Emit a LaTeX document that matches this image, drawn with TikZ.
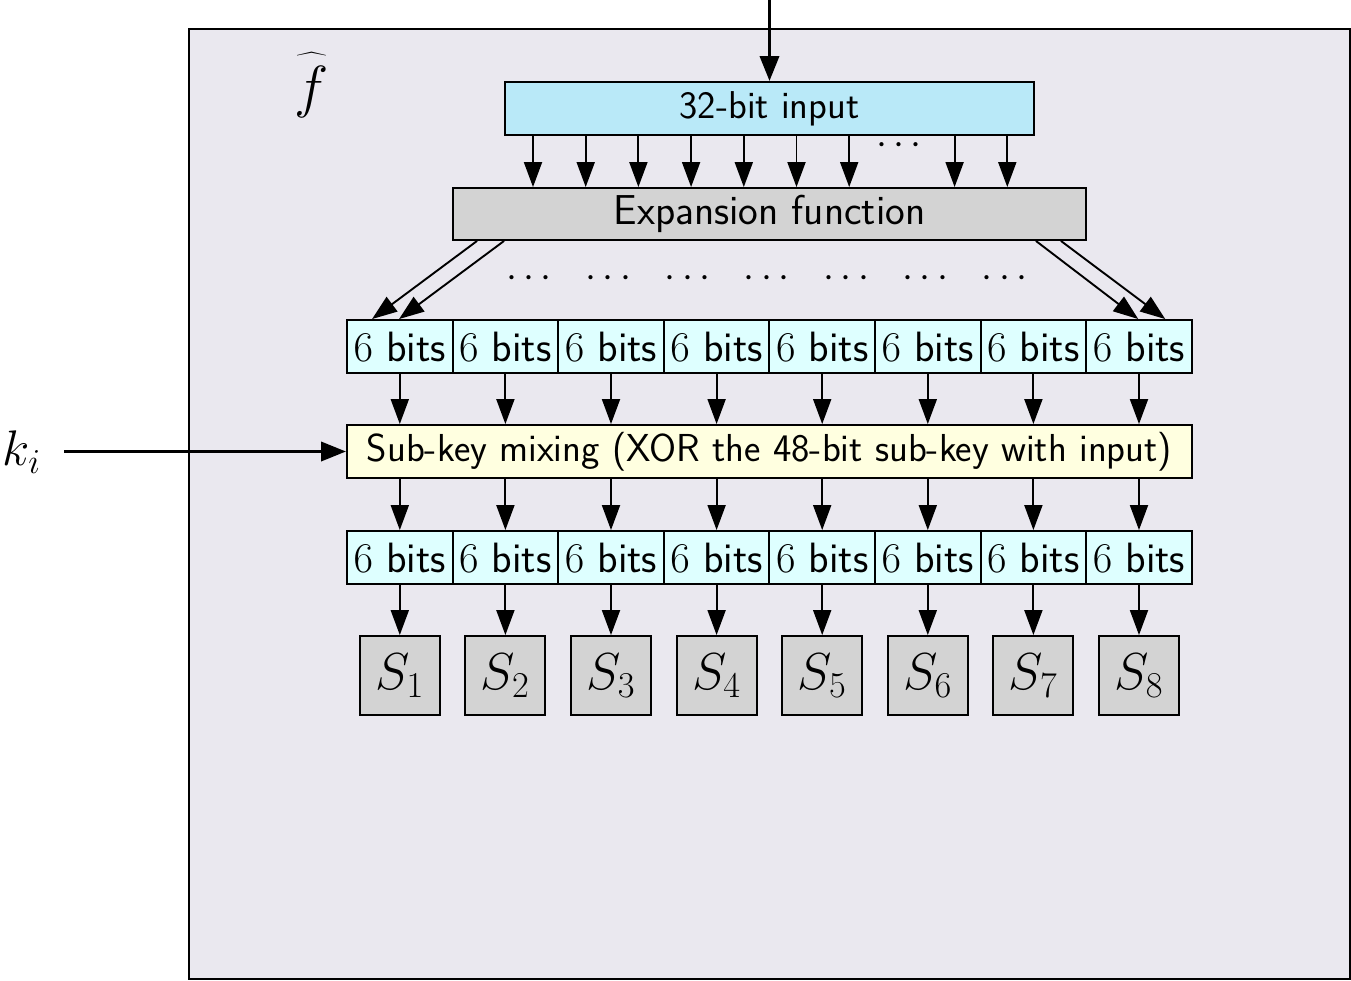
\documentclass[tikz,border=0pt]{standalone}
\usepackage{fix-cm}
\usepackage{fontspec}
\usetikzlibrary{arrows.meta,calc}
\definecolor{bgc}{RGB}{234,232,239}
\definecolor{inc}{RGB}{185,233,248}
\definecolor{bitc}{RGB}{222,255,255}
\definecolor{skc}{RGB}{255,255,224}
\definecolor{grc}{RGB}{211,211,211}
\begin{document}
\begin{tikzpicture}[x=0.5pt,y=-0.5pt,
  box/.style={draw,line width=0.95pt,inner sep=0pt,font=\fontsize{19.4}{23}\selectfont\sffamily},
  bitbox/.style={box,fill=bitc,minimum width=52.8pt,minimum height=26.5pt,font=\fontsize{21.2}{25}\selectfont\sffamily},
  sbox/.style={box,fill=grc,minimum width=40pt,minimum height=39.5pt,font=\fontsize{26}{30}\selectfont},
  arr/.style={line width=0.95pt,-{Triangle[length=12.5pt,width=9pt]}},
  thickarr/.style={line width=1.8pt,-{Triangle[length=12.5pt,width=9.5pt]}},
  dots/.style={inner sep=0pt,font=\fontsize{19.7}{23}\selectfont}
]
\useasboundingbox (0,0) rectangle (1351,981);
% outer box
\node[draw,line width=1.2pt,fill=bgc,minimum width=580.5pt,minimum height=475pt,inner sep=0pt] (F) at (769.5,504) {};
\node[font=\fontsize{29}{33}\selectfont] (fh) at (312,85) {$\widehat{f\rule{0pt}{23.5pt}}$};
% input
\node[box,fill=inc,minimum width=264.5pt,minimum height=26.5pt] (in) at (769.5,108.5) {32-bit input};
\coordinate (top) at (769.5,0);
\draw[thickarr] (top) -- (in.north);
% expansion
\node[box,fill=grc,minimum width=316.5pt,minimum height=26pt,font=\fontsize{20.9}{24}\selectfont\sffamily] (exp) at (769.5,214) {Expansion function};
\foreach \i in {0,1,2,3,4,5,6,8,9}{
  \coordinate (c\i) at ({533+52.7*\i},0);
  \draw[arr] (c\i |- in.south) -- (c\i |- exp.north);
}
\node[dots] (d0) at (899,146) {$\cdots$};
% first 6-bit row
\foreach \i in {1,...,8}{
  \node[bitbox] (a\i) at ({294.2+105.6*\i},346.5) {$6$ bits};
}
\foreach \i in {0,...,6}{
  \node[dots] (e\i) at ({529+79.3*\i},279) {$\cdots$};
}
\draw[arr] ($(exp.south west)+(25,0)$) -- ($(a1.north west)+(26,0)$);
\draw[arr] ($(exp.south west)+(52,0)$) -- ($(a1.north west)+(53,0)$);
\draw[arr] ($(exp.south east)+(-51,0)$) -- ($(a8.north west)+(53,0)$);
\draw[arr] ($(exp.south east)+(-26,0)$) -- ($(a8.north west)+(80,0)$);
% sub-key
\node[box,fill=skc,minimum width=422.5pt,minimum height=26.5pt,font=\fontsize{19.5}{23}\selectfont\sffamily] (sk) at (769.5,451.5) {Sub-key mixing (XOR the 48-bit sub-key with input)};
\node[font=\fontsize{25}{29}\selectfont] (ki) at (22,452) {$k_i$};
\draw[thickarr] ([xshift=8pt]ki.east |- sk.west) -- (sk.west);
% second row and S-boxes
\foreach \i in {1,...,8}{
  \node[bitbox] (b\i) at ({294.2+105.6*\i},557.5) {$6$ bits};
  \node[sbox] (s\i) at ({294.2+105.6*\i},675.5) {$S_{\i}$};
  \draw[arr] (a\i.south) -- (a\i.south |- sk.north);
  \draw[arr] (b\i.north |- sk.south) -- (b\i.north);
  \draw[arr] (b\i.south) -- (s\i.north);
}
\end{tikzpicture}
\end{document}
